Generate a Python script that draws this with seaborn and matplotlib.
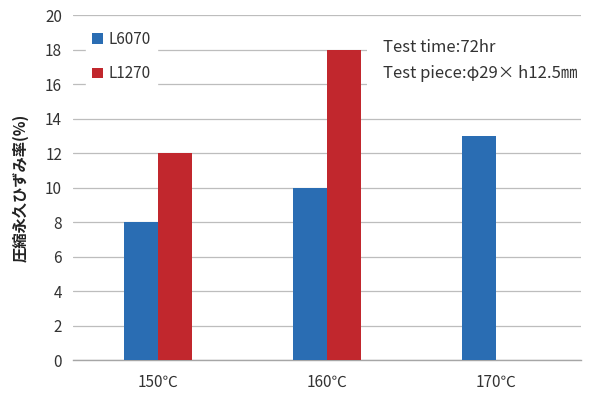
import matplotlib
matplotlib.use("Agg")
import matplotlib.pyplot as plt
from matplotlib.patches import Rectangle
import seaborn as sns
import pandas as pd
import numpy as np

categories = ["150℃", "160℃", "170℃"]
series_names = ["L6070", "L1270"]
l6070 = [8, 10, 13]
l1270 = [12, 18, np.nan]
y_ticks = [0, 2, 4, 6, 8, 10, 12, 14, 16, 18, 20]
notes = ["Test time:72hr", "Test piece:φ29× h12.5㎜"]

df = pd.DataFrame({
    "temp": categories * 2,
    "series": [series_names[0]] * 3 + [series_names[1]] * 3,
    "value": l6070 + l1270,
})

sns.set_theme(style="white")
plt.rcParams["font.family"] = ["Noto Sans CJK JP", "DejaVu Sans"]

fig = plt.figure(figsize=(5.9, 4.01), dpi=100)
ax = fig.add_axes([0.124, 0.102, 0.86, 0.86])

palette = {"L6070": "#2a6db3", "L1270": "#c1272d"}
sns.barplot(data=df, x="temp", y="value", hue="series", palette=palette,
            width=0.4, saturation=1, linewidth=0, ax=ax, zorder=3)

ax.set_ylim(0, 20)
ax.set_yticks(y_ticks)
ax.set_yticklabels([str(t) for t in y_ticks], fontsize=11, color="#333333")
ax.tick_params(axis="x", labelsize=11, colors="#333333", length=0, pad=10)
ax.tick_params(axis="y", length=0, pad=8)
ax.set_xlabel("")
ax.set_ylabel("圧縮永久ひずみ率(%)", fontsize=11, fontweight="bold", color="#222222", labelpad=12)
ax.yaxis.grid(True, color="#bdbdbd", linewidth=0.9, zorder=0)
ax.set_axisbelow(True)
for side in ["left", "right", "top"]:
    ax.spines[side].set_visible(False)
ax.spines["bottom"].set_color("#a6a6a6")
ax.spines["bottom"].set_linewidth(1.0)
ax.set_xlim(-0.5, 2.5)

leg = ax.legend(loc="upper left", bbox_to_anchor=(0.01, 0.995), frameon=True,
                fontsize=11, handlelength=0.7, handleheight=0.7, handletextpad=0.4,
                labelspacing=1.15, borderpad=0.4)
leg.get_frame().set_edgecolor("white")
leg.get_frame().set_facecolor("white")
leg.get_frame().set_alpha(1)
for t in leg.get_texts():
    t.set_color("#333333")

# white panel behind the test-condition notes
ax.add_patch(Rectangle((0.58, 0.783), 0.42, 0.16, transform=ax.transAxes,
                       facecolor="white", edgecolor="none", zorder=4))
for txt, yy in zip(notes, [0.907, 0.832]):
    ax.text(0.61, yy, txt, transform=ax.transAxes, fontsize=12, color="#333333",
            va="center", ha="left", zorder=5)

fig.savefig("out.png", dpi=100, facecolor="white")
